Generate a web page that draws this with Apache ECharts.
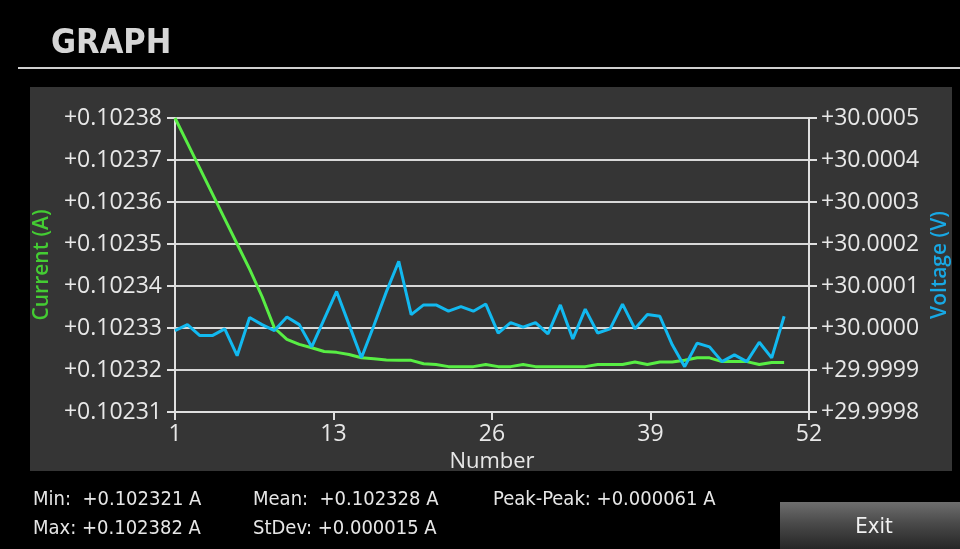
<!DOCTYPE html>
<html>
<head>
<meta charset="utf-8">
<script src="https://cdn.jsdelivr.net/npm/echarts@6/dist/echarts.min.js"></script>
<style>
  html, body { margin: 0; padding: 0; background: #000; }
  #chart { width: 960px; height: 549px; }
</style>
</head>
<body>
<div id="chart"></div>
<script>
// ---- Data ----
const numbers = [1,2,3,4,5,6,7,8,9,10,11,12,13,14,15,16,17,18,19,20,21,22,23,24,25,26,27,28,29,30,31,32,33,34,35,36,37,38,39,40,41,42,43,44,45,46,47,48,49,50];
const currentA = [
  0.1023800, 0.1023740, 0.1023680, 0.1023620, 0.1023560, 0.1023500, 0.1023440, 0.1023375, 0.1023300, 0.1023273,
  0.1023261, 0.1023253, 0.1023244, 0.1023242, 0.1023237, 0.1023229, 0.1023227, 0.1023224, 0.1023223, 0.1023223,
  0.1023215, 0.1023213, 0.1023208, 0.1023208, 0.1023208, 0.1023213, 0.1023208, 0.1023208, 0.1023213, 0.1023208,
  0.1023208, 0.1023208, 0.1023208, 0.1023208, 0.1023213, 0.1023213, 0.1023213, 0.1023219, 0.1023213, 0.1023219,
  0.1023219, 0.1023223, 0.1023229, 0.1023229, 0.1023220, 0.1023220, 0.1023220, 0.1023213, 0.1023218, 0.1023218
];
const voltageV = [
  29.999994, 30.000008, 29.999982, 29.999982, 29.999998, 29.999934, 30.000025, 30.000008, 29.999994, 30.000026,
  30.000008, 29.999955, 30.000021, 30.000087, 30.000008, 29.999929, 30.000006, 30.000086, 30.000159, 30.000032,
  30.000055, 30.000055, 30.000040, 30.000051, 30.000040, 30.000057, 29.999988, 30.000013, 30.000002, 30.000013,
  29.999986, 30.000055, 29.999974, 30.000045, 29.999988, 29.999998, 30.000057, 29.999998, 30.000032, 30.000028,
  29.999960, 29.999908, 29.999964, 29.999955, 29.999920, 29.999936, 29.999920, 29.999966, 29.999929, 30.000028
];
const xTickValues = [1, 13.75, 26.5, 39.25, 52];
const statsLines = [
  { text: 'Min:  +0.102321 A', col: 0, row: 0 },
  { text: 'Max: +0.102382 A', col: 0, row: 1 },
  { text: 'Mean:  +0.102328 A', col: 1, row: 0 },
  { text: 'StDev: +0.000015 A', col: 1, row: 1 },
  { text: 'Peak-Peak: +0.000061 A', col: 2, row: 0 }
];

const GREEN = '#58ee44';
const BLUE = '#12b9f0';
const AXIS_FONT = '"Open Sans", "Noto Sans", sans-serif';
const COND_FONT = '"DejaVu Sans Condensed", "Liberation Sans Narrow", "DejaVu Sans", sans-serif';

const chart = echarts.init(document.getElementById('chart'), null, { renderer: 'canvas' });

const statCols = [33, 253, 493];
const statRows = [500, 529];

const graphics = [
  { type: 'rect', z: -10, shape: { x: 30, y: 87, width: 922, height: 384 }, style: { fill: '#353535' }, silent: true },
  { type: 'text', z: 10, style: { x: 51, y: 44, text: 'GRAPH', fill: '#d6d6d6', font: 'bold 34px ' + COND_FONT, textVerticalAlign: 'middle' } },
  { type: 'line', z: 10, shape: { x1: 18, y1: 68, x2: 960, y2: 68 }, style: { stroke: '#cfcfcf', lineWidth: 2 } },
  { type: 'rect', z: 10, shape: { x: 780, y: 502, width: 180, height: 47 },
    style: { fill: new echarts.graphic.LinearGradient(0, 0, 0, 1, [
      { offset: 0, color: '#6e6e6e' }, { offset: 0.45, color: '#4a4a4a' }, { offset: 1, color: '#262626' }
    ]) } },
  { type: 'text', z: 11, style: { x: 874, y: 527, text: 'Exit', fill: '#f0f0f0', font: '22px ' + COND_FONT, textAlign: 'center', textVerticalAlign: 'middle' } }
];
statsLines.forEach(s => {
  graphics.push({ type: 'text', z: 10, style: {
    x: statCols[s.col], y: statRows[s.row], text: s.text, fill: '#e6e6e6',
    font: '20px ' + COND_FONT, textVerticalAlign: 'middle' } });
});

const option = {
  backgroundColor: '#000',
  animation: false,
  graphic: graphics,
  grid: { left: 175, right: 151, top: 118, bottom: 137, containLabel: false, outerBoundsMode: 'none' },
  xAxis: {
    type: 'value', min: 1, max: 52,
    name: 'Number', nameLocation: 'middle', nameGap: 38,
    nameTextStyle: { color: '#e8e8e8', fontSize: 22, fontFamily: AXIS_FONT },
    axisLine: { show: true, lineStyle: { color: '#e0e0e0', width: 2 } },
    axisTick: { show: true, length: 8, customValues: xTickValues, lineStyle: { color: '#e0e0e0', width: 2 } },
    axisLabel: { customValues: xTickValues, color: '#e8e8e8', fontSize: 23, fontFamily: AXIS_FONT, margin: 11,
      formatter: v => String(Math.floor(v + 1e-9)) },
    splitLine: { show: false }
  },
  yAxis: [
    {
      type: 'value', min: 0.10231, max: 0.10238, interval: 0.00001, position: 'left',
      name: 'Current (A)', nameLocation: 'middle', nameRotate: 90, nameGap: 121,
      nameTextStyle: { color: '#44cc33', fontSize: 21, fontWeight: 600, fontFamily: AXIS_FONT },
      axisLine: { show: true, lineStyle: { color: '#e0e0e0', width: 2 } },
      axisTick: { show: true, length: 8, lineStyle: { color: '#e0e0e0', width: 2 } },
      axisLabel: { color: '#e8e8e8', fontSize: 23, fontFamily: AXIS_FONT, margin: 13,
        formatter: v => '+' + v.toFixed(5) },
      splitLine: { show: true, lineStyle: { color: '#d8d8d8', width: 2 } }
    },
    {
      type: 'value', min: 29.9998, max: 30.0005, interval: 0.0001, position: 'right',
      name: 'Voltage (V)', nameLocation: 'middle', nameRotate: 90, nameGap: 118,
      nameTextStyle: { color: '#18a8e4', fontSize: 21, fontWeight: 600, fontFamily: AXIS_FONT },
      axisLine: { show: true, lineStyle: { color: '#e0e0e0', width: 2 } },
      axisTick: { show: true, length: 8, lineStyle: { color: '#e0e0e0', width: 2 } },
      axisLabel: { color: '#e8e8e8', fontSize: 23, fontFamily: AXIS_FONT, margin: 12,
        formatter: v => '+' + v.toFixed(4) },
      splitLine: { show: false }
    }
  ],
  series: [
    {
      name: 'Current', type: 'line', yAxisIndex: 0, symbol: 'none', smooth: false,
      lineStyle: { color: GREEN, width: 3 },
      data: numbers.map((n, i) => [n, currentA[i]])
    },
    {
      name: 'Voltage', type: 'line', yAxisIndex: 1, symbol: 'none', smooth: false,
      lineStyle: { color: BLUE, width: 3 },
      data: numbers.map((n, i) => [n, voltageV[i]])
    }
  ]
};
chart.setOption(option);
</script>
</body>
</html>
